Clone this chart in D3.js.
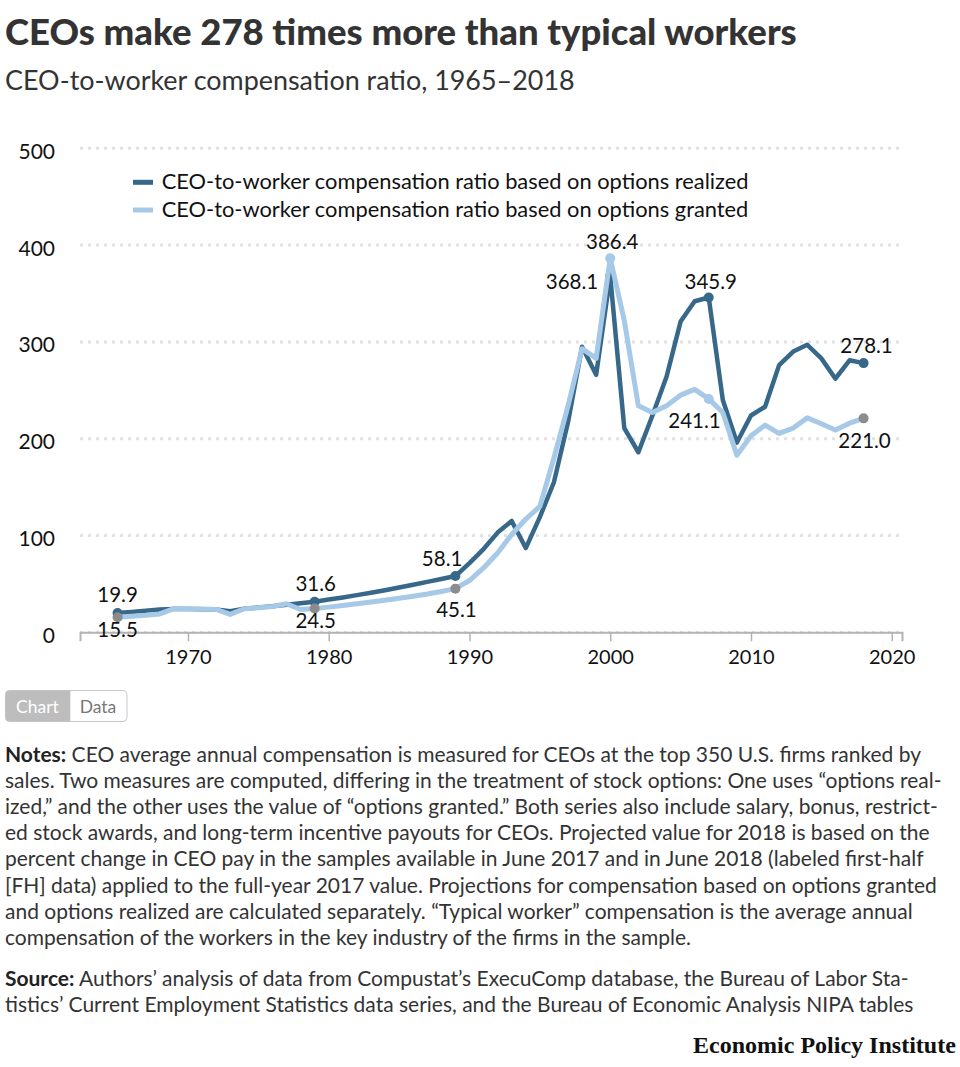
<!DOCTYPE html>
<html><head><meta charset="utf-8">
<script src="https://cdn.jsdelivr.net/npm/d3@7"></script>
<style>
body{margin:0;background:#fff;}
svg{display:block;font-family:Lato,"Noto Sans",sans-serif;}
</style></head><body>
<svg id="c" width="960" height="1067"></svg>
<script>
// ---------------- DATA ----------------
const years = [1965,1966,1967,1968,1969,1970,1971,1972,1973,1974,1975,1976,1977,1978,1979,
  1980,1981,1982,1983,1984,1985,1986,1987,1988,1989,1990,1991,1992,1993,1994,1995,1996,1997,1998,1999,
  2000,2001,2002,2003,2004,2005,2006,2007,2008,2009,2010,2011,2012,2013,2014,2015,2016,2017,2018];
const realized = [19.9,21.0,22.2,23.6,24.0,24.0,23.8,23.6,21.8,24.4,25.6,26.9,28.4,30.0,31.6,
  33.8,36.0,38.4,40.9,43.5,46.3,49.2,52.1,55.1,58.1,71.5,86.0,103.0,115.0,87.0,119.0,155.0,217.0,295.0,266.0,
  368.1,211.0,186.0,224.0,264.0,321.0,342.0,345.9,240.0,196.0,224.0,233.0,276.0,290.0,297.0,283.0,262.0,281.0,278.1];
const granted = [15.5,16.5,17.5,19.0,24.5,24.3,24.0,23.6,18.5,24.3,25.3,26.6,29.5,23.5,24.5,
  26.0,27.7,29.4,31.2,33.1,35.1,37.2,39.5,42.2,45.1,53.5,66.5,82.0,101.0,117.0,130.0,180.0,234.0,293.0,283.0,
  386.4,322.0,234.0,227.0,234.0,245.0,251.0,241.1,227.0,183.0,203.0,214.0,205.5,211.0,221.5,215.5,209.0,216.0,221.0];
const seriesNames = ["CEO-to-worker compensation ratio based on options realized",
                     "CEO-to-worker compensation ratio based on options granted"];
const yTicks = [0,100,200,300,400,500];
const xTicks = [1970,1980,1990,2000,2010,2020];
const realizedLabelYears = [1965,1979,1989,2000,2007,2018];
const grantedLabelYears  = [1965,1979,1989,2000,2007,2018];

const titleText = "CEOs make 278 times more than typical workers";
const subtitleText = "CEO-to-worker compensation ratio, 1965\u20132018";
const noteLines = [
  [["Notes:",true],[" CEO average annual compensation is measured for CEOs at the top 350 U.S. firms ranked by",false]],
  [["sales. Two measures are computed, differing in the treatment of stock options: One uses \u201coptions real-",false]],
  [["ized,\u201d and the other uses the value of \u201coptions granted.\u201d Both series also include salary, bonus, restrict-",false]],
  [["ed stock awards, and long-term incentive payouts for CEOs. Projected value for 2018 is based on the",false]],
  [["percent change in CEO pay in the samples available in June 2017 and in June 2018 (labeled first-half",false]],
  [["[FH] data) applied to the full-year 2017 value. Projections for compensation based on options granted",false]],
  [["and options realized are calculated separately. \u201cTypical worker\u201d compensation is the average annual",false]],
  [["compensation of the workers in the key industry of the firms in the sample.",false]]
];
const sourceLines = [
  [["Source:",true],[" Authors\u2019 analysis of data from Compustat\u2019s ExecuComp database, the Bureau of Labor Sta-",false]],
  [["tistics\u2019 Current Employment Statistics data series, and the Bureau of Economic Analysis NIPA tables",false]]
];

// ---------------- STYLE ----------------
const C_DARK = "#37688a", C_LIGHT = "#a6c9e7", C_GRAY = "#8c8c8c", C_TEXT = "#333";
const svg = d3.select("#c");

function fit(sel, target){
  const fs = parseFloat(sel.attr("font-size"));
  const w = sel.node().getComputedTextLength();
  sel.attr("font-size", (fs*target/w).toFixed(2));
  return fs*target/w;
}

// Title
fit(svg.append("text").attr("x",5).attr("y",45).attr("font-size",30).attr("font-weight",900)
  .attr("fill",C_TEXT).text(titleText), 792);
fit(svg.append("text").attr("x",5).attr("y",90).attr("font-size",24)
  .attr("fill",C_TEXT).text(subtitleText), 570);

// Scales
const x = d3.scaleLinear().domain([1962.33, 2020.73]).range([80, 902]);
const y = d3.scaleLinear().domain([0, 500]).range([632.3, 148.3]);

// Gridlines
svg.append("g").selectAll("line").data(yTicks).join("line")
  .attr("x1",80).attr("x2",902).attr("y1",d=>y(d)).attr("y2",d=>y(d))
  .attr("stroke","#e2e2e2").attr("stroke-width",3).attr("stroke-dasharray","3 5");

// Y labels
svg.append("g").selectAll("text").data(yTicks).join("text")
  .attr("x",55).attr("y",d=>y(d)+10.5).attr("text-anchor","end")
  .attr("font-size",21).attr("fill","#111").text(d=>d);

// X axis
const xAxis = d3.axisBottom(x).tickValues(xTicks).tickFormat(d3.format("d")).tickSizeOuter(0).tickSize(9).tickPadding(9);
const gx = svg.append("g").attr("transform",`translate(0,${y(0)})`).call(xAxis);
gx.select(".domain").attr("stroke","#b3b3b3").attr("stroke-width",2);
gx.selectAll(".tick line").attr("stroke","#b3b3b3").attr("stroke-width",1.5);
gx.selectAll(".tick text").attr("font-size",20).attr("font-family","Lato").attr("fill","#111");

// Lines
const line = d3.line().x((d,i)=>x(years[i])).y(d=>y(d));
svg.append("path").datum(realized).attr("d",line).attr("fill","none")
  .attr("stroke",C_DARK).attr("stroke-width",4.5).attr("stroke-linejoin","round");
const fmt = d3.format(".1f");
realizedLabelYears.forEach(yr=>{
  const i = years.indexOf(yr);
  svg.append("circle").attr("cx",x(yr)).attr("cy",y(realized[i])).attr("r",5).attr("fill",C_DARK);
});
svg.append("path").datum(granted).attr("d",line).attr("fill","none")
  .attr("stroke",C_LIGHT).attr("stroke-width",5).attr("stroke-linejoin","round");
const grantedDotColor = {1965:C_GRAY,1979:C_GRAY,1989:C_GRAY,2000:C_LIGHT,2007:C_LIGHT,2018:C_GRAY};
grantedLabelYears.forEach(yr=>{
  const i = years.indexOf(yr);
  svg.append("circle").attr("cx",x(yr)).attr("cy",y(granted[i])).attr("r",5).attr("fill",grantedDotColor[yr]);
});

// Labels (offsets are layout only)
const realizedLabelStyle = {1965:[0,-11,"middle"],1979:[1,-11,"middle"],1989:[7,-10,"end"],
                            2000:[-12,13,"end"],2007:[2,-8,"middle"],2018:[3,-10,"middle"]};
const grantedLabelStyle  = {1965:[0,20,"middle"],1979:[1,19.5,"middle"],1989:[1,28,"middle"],
                            2000:[2,-9,"middle"],2007:[12,29,"end"],2018:[1,30,"middle"]};
function addLabels(yrs, vals, st){
  yrs.forEach(yr=>{
    const i = years.indexOf(yr), s = st[yr];
    svg.append("text").attr("x",x(yr)+s[0]).attr("y",y(vals[i])+s[1]).attr("text-anchor",s[2])
      .attr("font-size",20.5).attr("fill","#111").text(fmt(vals[i]));
  });
}
addLabels(realizedLabelYears, realized, realizedLabelStyle);
addLabels(grantedLabelYears, granted, grantedLabelStyle);

// Legend
const legColors = [C_DARK, C_LIGHT];
const leg = svg.append("g");
seriesNames.forEach((n,k)=>{
  const cy = 182.3 + k*27.7;
  leg.append("line").attr("x1",133).attr("x2",153).attr("y1",cy).attr("y2",cy)
    .attr("stroke",legColors[k]).attr("stroke-width",5);
  const t = leg.append("text").attr("x",161.7).attr("y",cy+6.5).attr("font-size",19.5).attr("fill","#111").text(n);
  if(k===0) fit(t,587); else t.attr("font-size", leg.select("text").attr("font-size"));
});

// Chart / Data buttons
const bt = svg.append("g");
bt.append("rect").attr("x",5.5).attr("y",690.5).attr("width",121.5).attr("height",31).attr("rx",4)
  .attr("fill","#fff").attr("stroke","#c8c8c8");
bt.append("path").attr("d","M70.3,690.5 H9.5 a4,4 0 0 0 -4,4 V717.5 a4,4 0 0 0 4,4 H70.3 Z").attr("fill","#bdbdbd");
bt.append("text").attr("x",37.5).attr("y",712.5).attr("text-anchor","middle").attr("font-size",17.5)
  .attr("fill","#fff").text("Chart");
bt.append("text").attr("x",98).attr("y",712.5).attr("text-anchor","middle").attr("font-size",17.5)
  .attr("fill","#777").text("Data");

// Notes
function textBlock(lines, y0, lh, fs){
  const out=[];
  lines.forEach((ln,k)=>{
    const t = svg.append("text").attr("x",5).attr("y",y0+k*lh).attr("font-size",fs).attr("fill",C_TEXT);
    ln.forEach(([s,b])=>{ const ts=t.append("tspan").text(s); if(b) ts.attr("font-weight",700).attr("fill","#222"); });
    out.push(t);
  });
  return out;
}
const nt = textBlock(noteLines, 762, 26.1, 17);
const nfs = fit(nt[2], 933);
nt.forEach(t=>t.attr("font-size",nfs.toFixed(2)));
textBlock(sourceLines, 986, 26.1, nfs.toFixed(2));

// Logo
const logo = svg.append("text").attr("x",693).attr("y",1053).attr("font-size",22)
  .attr("font-family","'Liberation Serif',serif").attr("font-weight",700).attr("fill","#111")
  .text("Economic Policy Institute");
fit(logo, 263);
</script>
</body></html>
